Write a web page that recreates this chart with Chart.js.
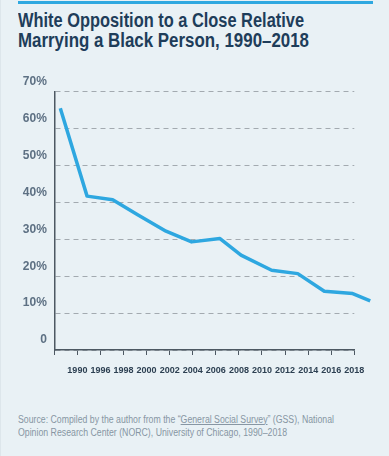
<!DOCTYPE html>
<html>
<head>
<meta charset="utf-8">
<script src="https://cdn.jsdelivr.net/npm/chart.js@4.4.1/dist/chart.umd.min.js"></script>
<style>
  html, body { margin: 0; padding: 0; background: #e9f1f5; }
  #card { position: relative; width: 389px; height: 456px; overflow: hidden; background: #e9f1f5; border-left: 1px solid #dde6eb; box-sizing: border-box; }
  .topbar { position: absolute; left: 17px; top: 1px; width: 355px; height: 3px; background: #2fa8e0; }
  .fit { position: absolute; left: 17px; white-space: nowrap; transform-origin: 0 0; }
  .title { font: bold 19.5px 'Liberation Sans Narrow', 'Liberation Sans', Roboto, sans-serif; line-height: 20px; color: #1e3d5a; }
  .source { font: 10px 'Liberation Sans Narrow', 'Liberation Sans', Roboto, sans-serif; line-height: 13.3px; color: #8796a3; }
  .source u { text-decoration-color: #8796a3; }
  #chartBox { position: absolute; left: 0; top: 60px; width: 389px; height: 320px; }
</style>
</head>
<body>
<div id="card">
  <div class="topbar"></div>
  <span class="fit title" style="top:10px" data-w="286">White Opposition to a Close Relative</span>
  <span class="fit title" style="top:30px" data-w="291">Marrying a Black Person, 1990–2018</span>

  <div id="chartBox"><canvas id="chart" width="389" height="320"></canvas></div>

  <span class="fit source" style="top:412.6px" data-w="316">Source: Compiled by the author from the “<u>General Social Survey</u>” (GSS), National</span>
  <span class="fit source" style="top:425.9px" data-w="269">Opinion Research Center (NORC), University of Chicago, 1990–2018</span>
</div>

<script>
// position of each survey point along the x axis (in tick steps) and its share opposed (%)
const surveyX   = [0.26, 1.42, 2.53, 3.63, 4.84, 5.95, 7.18, 8.09, 9.42, 10.55, 11.70, 12.93, 13.69];
const opposed   = [65.5, 41.7, 40.7, 36.6, 32.2, 29.3, 30.2, 25.7, 21.6, 20.7, 15.9, 15.3, 13.3];
const xTickLabels = ['1990', '1996', '1998', '2000', '2002', '2004', '2006', '2008', '2010', '2012', '2014', '2016', '2018'];
const yTickValues = [0, 10, 20, 30, 40, 50, 60, 70];

// squeeze text to the condensed widths of the original
document.querySelectorAll('.fit').forEach(function (el) {
  const w = el.getBoundingClientRect().width;
  el.style.transform = 'scaleX(' + (parseFloat(el.dataset.w) / w) + ')';
});

const axisColor = '#4d5862';
const narrow = "'Liberation Sans Narrow', 'Liberation Sans', Roboto, sans-serif";

new Chart(document.getElementById('chart'), {
  type: 'line',
  data: {
    datasets: [{
      data: surveyX.map(function (x, i) { return { x: x, y: opposed[i] }; }),
      borderColor: '#2ea7e0',
      borderWidth: 3.5,
      pointRadius: 0,
      tension: 0,
      fill: false,
      clip: false,
      borderJoinStyle: 'round',
    }]
  },
  options: {
    responsive: false,
    animation: false,
    events: [],
    layout: { padding: { left: 0, right: 35.7, top: 31.7, bottom: 0 } },
    plugins: { legend: { display: false }, tooltip: { enabled: false } },
    scales: {
      x: {
        type: 'linear',
        min: 0,
        max: xTickLabels.length,
        afterFit: function (s) { s.height = 30; },
        afterBuildTicks: function (s) {
          s.ticks = [];
          for (let i = 0; i <= xTickLabels.length; i++) s.ticks.push({ value: i });
        },
        ticks: {
          autoSkip: false,
          maxRotation: 0,
          padding: 10,
          color: '#2d4052',
          font: { family: narrow, size: 9, weight: 'bold' },
          callback: function (v) { return v >= 1 ? xTickLabels[v - 1] : ''; },
        },
        grid: { drawOnChartArea: false, drawTicks: true, tickLength: 5, color: axisColor, lineWidth: 1 },
        border: { display: true, color: axisColor, width: 1.5 },
      },
      y: {
        min: 0,
        max: 70,
        afterFit: function (s) { s.width = 53.3; },
        afterBuildTicks: function (s) { s.ticks = yTickValues.map(function (v) { return { value: v }; }); },
        ticks: {
          padding: 7.5,
          labelOffset: -10,
          color: '#5d7083',
          font: { family: narrow, size: 12, weight: 'bold' },
          callback: function (v) { return v === 0 ? '0' : v + '%'; },
        },
        grid: { drawTicks: false, color: '#a3aab0', lineWidth: 1 },
        border: { display: true, color: axisColor, width: 1.5, dash: [5, 4] },
      },
    },
  },
});
</script>
</body>
</html>
